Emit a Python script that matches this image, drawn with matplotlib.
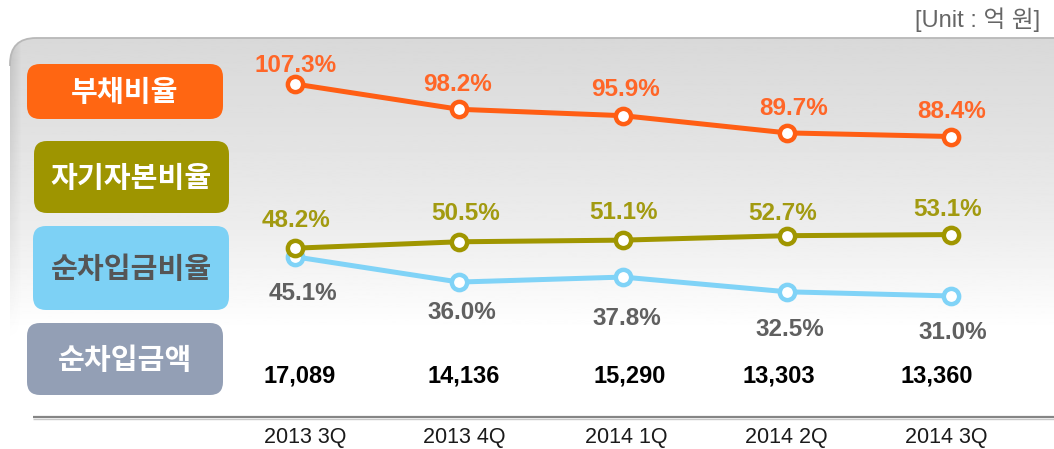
import numpy as np
import matplotlib
matplotlib.use("Agg")
import matplotlib.pyplot as plt
from matplotlib.patches import FancyBboxPatch, Rectangle
import matplotlib.transforms as mtransforms

plt.rcParams['font.family'] = ['Liberation Sans', 'Noto Sans CJK KR', 'DejaVu Sans']

# ---------------- data ----------------
categories = ["2013 3Q", "2013 4Q", "2014 1Q", "2014 2Q", "2014 3Q"]
debt_ratio = [107.3, 98.2, 95.9, 89.7, 88.4]          # 부채비율
equity_ratio = [48.2, 50.5, 51.1, 52.7, 53.1]         # 자기자본비율
net_debt_ratio = [45.1, 36.0, 37.8, 32.5, 31.0]       # 순차입금비율
net_debt_amount = [17089, 14136, 15290, 13303, 13360] # 순차입금액
series_names = ["부채비율", "자기자본비율", "순차입금비율", "순차입금액"]
unit_text = "[Unit : 억 원]"

# ---------------- style ----------------
c_orange = "#FF5E14"
c_orange_txt = "#FF6628"
c_olive = "#A09600"
c_olive_txt = "#A29A10"
c_blue = "#80D3F7"
c_blue_txt = "#606060"
box_colors = ["#FF6612", "#9E9500", "#7DD1F5", "#939FB5"]
box_text_colors = ["white", "white", "#555555", "white"]

W, H = 1054, 449
fig = plt.figure(figsize=(W / 100, H / 100), dpi=100)

# background axes in pixel coordinates
bg = fig.add_axes([0, 0, 1, 1])
bg.set_xlim(0, W)
bg.set_ylim(H, 0)
bg.axis("off")

panel = FancyBboxPatch((10, 38), 1100, 500, boxstyle="round,pad=0,rounding_size=26",
                       facecolor="none", edgecolor="none")
bg.add_patch(panel)
grad = np.clip(np.interp(np.linspace(38, 449, 400), [38, 120, 230, 330, 449],
                         [0.85, 0.88, 0.93, 1.0, 1.0]), 0, 1)
img = bg.imshow(grad[:, None], cmap="gray", vmin=0, vmax=1, aspect="auto",
                extent=(10, 1110, 449, 38), origin="upper", zorder=0)
img.set_clip_path(panel)
# soft left-edge shading, fading out downwards and rightwards
ny, nx = 150, 12
alpha = np.outer(np.linspace(0.35, 0.0, ny), np.linspace(1.0, 0.0, nx))
rgba = np.zeros((ny, nx, 4))
rgba[..., :3] = 0.6
rgba[..., 3] = alpha
eimg = bg.imshow(rgba, aspect="auto", extent=(10, 22, 340, 38), origin="upper", zorder=0.5)
eimg.set_clip_path(panel)
border = FancyBboxPatch((10, 38), 1100, 500, boxstyle="round,pad=0,rounding_size=26",
                        facecolor="none", edgecolor="#b8b8b8", lw=1.3, zorder=1)
bg.add_patch(border)
border.set_clip_path(Rectangle((0, 0), W, 66, transform=bg.transData))
bg.set_xlim(0, W)
bg.set_ylim(H, 0)

# bottom baseline
bg.plot([33, W], [417, 417], color="#858585", lw=1.6, solid_capstyle="butt")
bg.plot([33, W], [418.5, 418.5], color="#c8c8c8", lw=1.0, solid_capstyle="butt")

# legend boxes
box_geom = [(27, 64, 196, 55), (34, 141, 195, 72), (33, 226, 196, 84), (27, 323, 196, 72)]
for (x, y, w, h), fc, tc, name in zip(box_geom, box_colors, box_text_colors, series_names):
    bg.add_patch(FancyBboxPatch((x, y), w, h, boxstyle="round,pad=0,rounding_size=13",
                                facecolor=fc, edgecolor="none", zorder=2))
    bg.text(x + w / 2, y + h / 2 + 1, name, ha="center", va="center", color=tc,
            fontsize=21, fontweight="bold", family=["Noto Sans CJK KR"], zorder=3)

bg.text(1040, 20, unit_text, ha="right", va="center", color="#666666", fontsize=17)

# data axes (shared linear scale for all ratios)
ax = fig.add_axes([0, 0, 1, 1])
ax.patch.set_alpha(0)
ax.axis("off")
x = np.arange(len(categories))
ax.set_xlim(-295 / 164, (W - 295) / 164)
px_per_unit = 2.778
ax.set_ylim(107.3 - (H - 84) / px_per_unit, 107.3 + 84 / px_per_unit)

mk = dict(marker="o", markersize=11, markerfacecolor="white", markeredgewidth=3.2)
ax.plot(x, net_debt_ratio, color=c_blue, lw=3.6, markeredgecolor=c_blue, **mk, zorder=3)
ax.plot(x, equity_ratio, color=c_olive, lw=3.6, markeredgecolor=c_olive, **mk, zorder=4)
ax.plot(x, debt_ratio, color=c_orange, lw=3.6, markeredgecolor=c_orange, **mk, zorder=5)

# label offsets in pixels (dx, dy up)
off_orange = [(1, 18), (-2, 25), (2, 26), (7, 24), (1, 25)]
off_olive = [(1, 28), (7, 28), (1, 28), (-4, 22), (-3, 25)]
off_blue = [(8, -37), (3, -30), (4, -41), (3, -38), (2, -37)]

def px_offset(dx, dy):
    return mtransforms.offset_copy(ax.transData, fig=fig, x=dx, y=dy, units="dots")

pct_fs = 17.5
for i in range(len(categories)):
    dx, dy = off_orange[i]
    ax.text(x[i], debt_ratio[i], f"{debt_ratio[i]:.1f}%", transform=px_offset(dx, dy),
            ha="center", va="center", color=c_orange_txt, fontsize=pct_fs, fontweight="bold")
    dx, dy = off_olive[i]
    ax.text(x[i], equity_ratio[i], f"{equity_ratio[i]:.1f}%", transform=px_offset(dx, dy),
            ha="center", va="center", color=c_olive_txt, fontsize=pct_fs, fontweight="bold")
    dx, dy = off_blue[i]
    ax.text(x[i], net_debt_ratio[i], f"{net_debt_ratio[i]:.1f}%", transform=px_offset(dx, dy),
            ha="center", va="center", color=c_blue_txt, fontsize=pct_fs, fontweight="bold")

amt_dx = [5, 5, 7, -8, -14]
tick_dx = [10, 5, 3, -1, -5]
blend = mtransforms.blended_transform_factory(ax.transData, fig.transFigure)
for i, v in enumerate(net_debt_amount):
    t = mtransforms.offset_copy(blend, fig=fig, x=amt_dx[i], y=0, units="dots")
    ax.text(x[i], 1 - 376 / H, f"{v:,}", transform=t, ha="center", va="center",
            color="black", fontsize=17, fontweight="bold")
    t2 = mtransforms.offset_copy(blend, fig=fig, x=tick_dx[i], y=0, units="dots")
    ax.text(x[i], 1 - 438 / H, categories[i], transform=t2, ha="center", va="center",
            color="#1a1a1a", fontsize=15.5)

fig.savefig("out.png", dpi=100)
